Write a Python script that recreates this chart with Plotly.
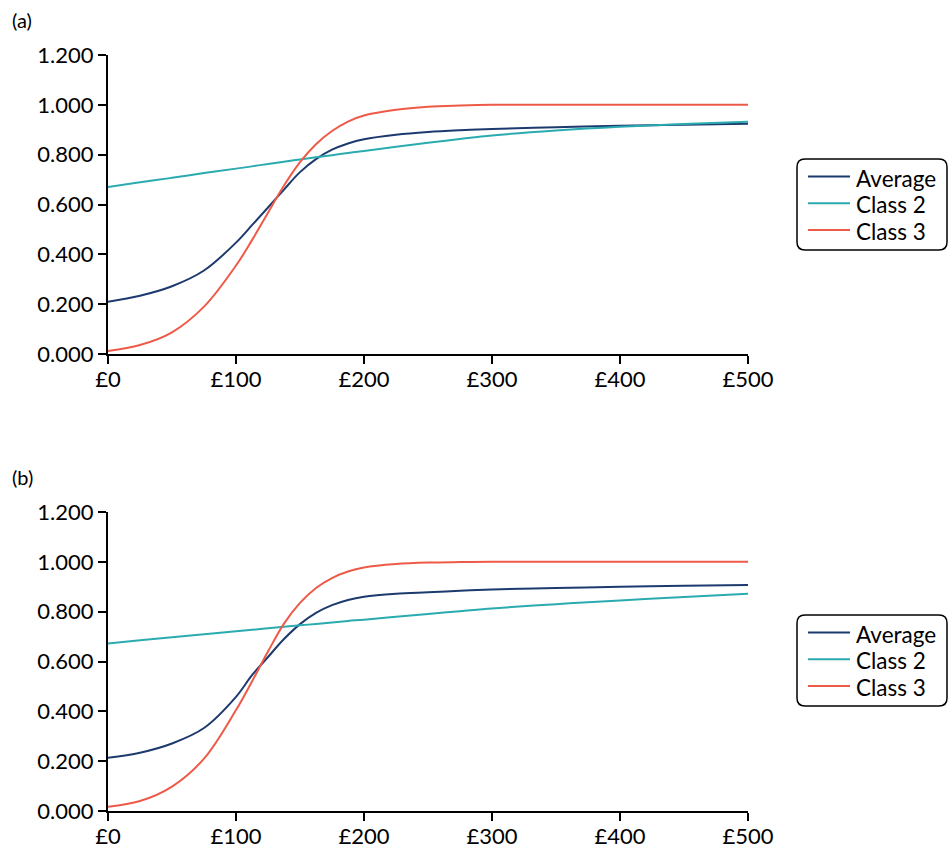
import plotly.graph_objects as go

# ---- data ----
cost_a = [0, 25, 50, 75, 100, 112.5, 125, 137.5, 150, 162.5, 175, 187.5, 200, 225, 250, 275, 300, 350, 400, 450, 500]
avg_a = [0.210, 0.234, 0.272, 0.335, 0.447, 0.517, 0.588, 0.660, 0.730, 0.782, 0.820, 0.845, 0.862, 0.880, 0.891, 0.898, 0.903, 0.910, 0.916, 0.920, 0.924]
cls2_a = [0.670, 0.689, 0.707, 0.726, 0.744, 0.753, 0.763, 0.772, 0.781, 0.790, 0.798, 0.807, 0.815, 0.832, 0.848, 0.863, 0.877, 0.897, 0.912, 0.923, 0.932]
cls3_a = [0.012, 0.036, 0.087, 0.190, 0.355, 0.457, 0.567, 0.676, 0.770, 0.842, 0.895, 0.933, 0.957, 0.980, 0.992, 0.997, 1.000, 1.000, 1.000, 1.000, 1.000]

cost_b = [0, 25, 50, 75, 100, 112.5, 125, 137.5, 150, 162.5, 175, 187.5, 200, 225, 250, 275, 300, 350, 400, 450, 500]
avg_b = [0.214, 0.234, 0.271, 0.333, 0.458, 0.545, 0.618, 0.690, 0.750, 0.795, 0.826, 0.847, 0.860, 0.872, 0.878, 0.884, 0.889, 0.895, 0.900, 0.904, 0.907]
cls2_b = [0.672, 0.685, 0.697, 0.709, 0.721, 0.727, 0.733, 0.739, 0.745, 0.751, 0.757, 0.763, 0.768, 0.780, 0.791, 0.802, 0.813, 0.830, 0.845, 0.859, 0.872]
cls3_b = [0.017, 0.040, 0.098, 0.210, 0.405, 0.520, 0.640, 0.752, 0.835, 0.895, 0.935, 0.961, 0.977, 0.991, 0.997, 0.999, 1.000, 1.000, 1.000, 1.000, 1.000]

series_names = ["Average", "Class 2", "Class 3"]
colors = ["#1d3a6e", "#2aabb0", "#ee5a48"]
x_ticks = [0, 100, 200, 300, 400, 500]
x_ticklabels = ["£0", "£100", "£200", "£300", "£400", "£500"]
y_ticks = [0, 0.2, 0.4, 0.6, 0.8, 1.0, 1.2]
panel_labels = ["(a)", "(b)"]

FONT = "Lato, 'Noto Sans', sans-serif"
FS = 22

fig = go.Figure()
for (xs, ys_list, xa, ya) in [
    (cost_a, [avg_a, cls2_a, cls3_a], "x", "y"),
    (cost_b, [avg_b, cls2_b, cls3_b], "x2", "y2"),
]:
    for name, ys, c in zip(series_names, ys_list, colors):
        fig.add_trace(go.Scatter(
            x=xs, y=ys, name=name, mode="lines",
            line=dict(color=c, width=2, shape="spline", smoothing=1.0),
            xaxis=xa, yaxis=ya, showlegend=False,
        ))

axis_common = dict(
    showgrid=False, zeroline=False, showline=True, linecolor="black", linewidth=2,
    ticks="outside", ticklen=8, tickwidth=2, tickcolor="black",
    tickfont=dict(family=FONT, size=FS, color="black"),
)

W, H = 951, 848
ml, mr, mt, mb = 108, 203, 55, 37
pw = W - ml - mr
ph = H - mt - mb

def py(pix):
    return (H - mb - pix) / ph

def px(pix):
    return (pix - ml) / pw

fig.update_layout(
    width=W, height=H,
    margin=dict(l=ml, r=mr, t=mt, b=mb, autoexpand=False),
    paper_bgcolor="white", plot_bgcolor="white",
    font=dict(family=FONT, size=FS, color="black"),
    showlegend=False,
    xaxis=dict(domain=[0, 1], range=[0, 500], tickvals=x_ticks, ticktext=x_ticklabels,
               anchor="y", ticklabelstandoff=-3, **axis_common),
    yaxis=dict(domain=[py(354), 1.0], range=[0, 1.2], tickvals=y_ticks, tickformat=".3f",
               anchor="x", **axis_common),
    xaxis2=dict(domain=[0, 1], range=[0, 500], tickvals=x_ticks, ticktext=x_ticklabels,
                anchor="y2", ticklabelstandoff=-3, **axis_common),
    yaxis2=dict(domain=[0, py(512)], range=[0, 1.2], tickvals=y_ticks, tickformat=".3f",
                anchor="x2", **axis_common),
)

def rounded_box(x0p, y0p, x1p, y1p, r=8):
    X0, X1 = px(x0p), px(x1p)
    Yt, Yb = py(y0p), py(y1p)
    rx, ry = r / pw, r / ph
    return (f"M {X0+rx},{Yt} L {X1-rx},{Yt} Q {X1},{Yt} {X1},{Yt-ry} "
            f"L {X1},{Yb+ry} Q {X1},{Yb} {X1-rx},{Yb} L {X0+rx},{Yb} "
            f"Q {X0},{Yb} {X0},{Yb+ry} L {X0},{Yt-ry} Q {X0},{Yt} {X0+rx},{Yt} Z")

# legend boxes (drawn manually to match spacing)
for off in [0, 456]:
    fig.add_shape(type="path", xref="paper", yref="paper",
                  path=rounded_box(797, 159 + off, 947, 250 + off),
                  line=dict(color="black", width=1.5), fillcolor="rgba(0,0,0,0)")
    for i, (name, c) in enumerate(zip(series_names, colors)):
        yl = 176.5 + off + i * 26.7
        fig.add_shape(type="line", xref="paper", yref="paper",
                      x0=px(808), x1=px(850), y0=py(yl), y1=py(yl),
                      line=dict(color=c, width=2))
        fig.add_annotation(text=name, xref="paper", yref="paper", x=px(854), y=py(yl + 1.5),
                           xanchor="left", yanchor="middle", showarrow=False,
                           font=dict(family=FONT, size=22.5, color="black"))

for lab, ypix in zip(panel_labels, [20, 477]):
    fig.add_annotation(text=lab, xref="paper", yref="paper", x=px(10), y=py(ypix),
                       xanchor="left", yanchor="middle", showarrow=False,
                       font=dict(family=FONT, size=20, color="black"))

fig.write_html("out.html", config={"displayModeBar": False},
               post_script="document.body.style.margin='0';document.body.style.overflow='hidden';")
